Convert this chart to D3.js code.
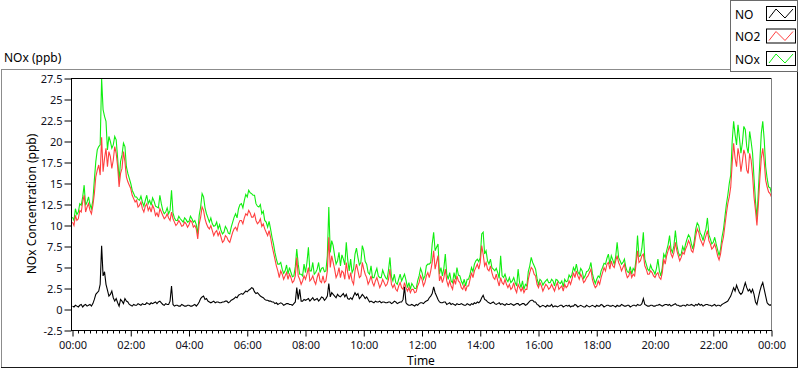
<!DOCTYPE html>
<html><head><meta charset="utf-8">
<script src="https://cdn.jsdelivr.net/npm/d3@7/dist/d3.min.js"></script>
<style>
html,body{margin:0;padding:0;background:#fff;}
svg{display:block;}
text{font-family:"Noto Sans","Liberation Sans",sans-serif;}
</style></head><body>
<svg id="chart" width="800" height="369"></svg>
<script>
// sample interval in minutes (samples start at 00:00)
const sampleMinutes = 3;
const seriesNames = ["NO", "NO2", "NOx"];
const seriesColors = ["#000000", "#ff4040", "#10ee10"];

const NO = [
0.4,0.3,0.5,0.4,0.3,0.5,0.6,0.3,0.5,0.6,0.4,0.5,0.6,0.4,0.7,1.2,1.8,2.0,2.2,3.0,
7.6,4.0,4.5,3.0,2.3,1.6,1.8,2.2,1.4,1.0,1.3,0.8,0.4,1.2,1.0,0.7,1.3,1.0,0.9,0.6,
0.5,0.4,0.6,0.5,0.5,0.7,0.6,0.5,0.7,0.6,0.6,0.8,0.7,0.6,0.8,0.7,0.8,0.9,0.7,0.9,
1.0,0.8,0.6,0.5,0.7,0.6,0.6,1.0,2.8,0.6,0.4,0.5,0.5,0.4,0.4,0.6,0.5,0.4,0.4,0.5,
0.5,0.4,0.4,0.5,0.6,0.4,0.6,0.9,1.3,1.5,1.6,1.2,1.3,1.0,0.9,0.8,0.9,1.0,0.8,0.9,
0.9,0.8,0.8,0.9,0.9,1.0,1.0,0.8,0.9,1.1,1.2,1.3,1.5,1.4,1.7,1.8,1.9,1.8,2.0,2.2,
2.1,2.3,2.4,2.6,2.5,2.1,1.9,2.0,1.8,1.6,1.5,1.4,1.2,1.1,1.1,1.0,1.0,0.9,0.9,0.7,
0.8,0.6,0.7,0.8,0.7,0.5,0.6,0.7,0.7,0.6,0.6,0.5,0.7,0.9,2.6,1.2,2.4,1.0,1.0,1.2,
1.1,1.2,1.3,1.0,1.2,1.4,1.1,1.2,1.3,1.0,1.2,1.5,1.4,1.1,1.3,1.6,3.1,1.5,2.0,1.8,
1.6,1.4,1.8,1.6,1.5,1.7,1.9,1.5,1.8,1.3,1.2,1.4,1.2,1.6,2.0,1.7,1.9,1.3,1.5,1.8,
1.6,1.3,1.5,1.2,0.9,1.0,0.9,0.8,1.0,0.9,0.9,1.0,0.8,0.9,0.9,0.8,0.8,0.9,0.9,0.7,
0.8,1.0,0.9,0.7,0.8,0.9,0.9,1.2,2.7,0.8,0.6,0.5,0.5,0.6,0.5,0.4,0.6,0.5,0.7,0.8,
0.8,0.7,0.9,1.0,1.1,1.4,1.6,1.9,2.7,2.0,1.6,1.2,0.9,0.8,0.8,0.9,0.9,0.6,0.7,0.8,
0.6,0.7,0.6,0.5,0.7,0.6,0.6,0.7,0.6,0.5,0.5,0.7,0.6,0.5,0.7,0.6,0.8,0.7,0.9,0.8,
1.0,1.4,1.7,1.2,1.1,0.9,0.8,0.7,0.8,0.9,0.7,0.6,0.7,0.8,0.6,0.7,0.6,0.5,0.7,0.6,
0.6,0.7,0.6,0.5,0.6,0.7,0.7,0.5,0.6,0.7,0.7,0.5,0.6,0.8,1.0,1.1,1.1,0.9,0.9,0.6,
0.5,0.3,0.4,0.5,0.4,0.3,0.5,0.4,0.4,0.6,0.3,0.4,0.4,0.3,0.4,0.5,0.5,0.3,0.4,0.5,
0.4,0.5,0.3,0.4,0.4,0.6,0.5,0.3,0.4,0.5,0.4,0.3,0.3,0.5,0.4,0.3,0.4,0.5,0.4,0.3,
0.5,0.4,0.4,0.6,0.5,0.3,0.4,0.5,0.5,0.4,0.4,0.5,0.4,0.3,0.5,0.4,0.4,0.6,0.5,0.4,
0.4,0.5,0.5,0.3,0.4,0.5,0.5,0.4,0.6,0.5,0.5,0.7,1.3,0.6,0.5,0.4,0.4,0.5,0.5,0.4,
0.4,0.5,0.5,0.6,0.5,0.4,0.5,0.6,0.6,0.5,0.6,0.4,0.5,0.6,0.7,0.5,0.5,0.4,0.4,0.5,
0.5,0.4,0.6,0.5,0.5,0.6,0.5,0.4,0.6,0.5,0.7,0.5,0.6,0.4,0.5,0.6,0.6,0.5,0.5,0.4,
0.5,0.6,0.4,0.5,0.5,0.4,0.6,0.7,0.8,0.9,1.0,1.3,1.6,2.1,2.6,2.2,2.9,2.4,2.0,1.8,
2.0,2.6,3.2,2.6,2.2,2.4,2.0,2.4,1.8,0.9,0.6,1.4,2.2,2.8,3.2,2.4,1.6,0.8,0.6,0.5,
0.6];

const NO2 = [
10.4,10.0,11.2,10.6,10.8,11.8,11.6,12.8,13.6,11.6,12.2,12.6,11.8,11.4,12.4,13.8,15.8,16.6,17.2,16.0,
20.5,16.4,18.0,19.2,17.0,18.8,18.2,16.8,17.8,19.4,18.6,17.0,14.6,16.2,16.8,18.8,17.6,15.8,15.2,14.8,
14.4,13.6,13.2,12.8,13.0,12.2,12.4,12.8,12.0,11.6,12.3,12.6,11.8,12.2,11.6,12.4,12.0,11.2,11.5,11.0,
12.0,11.6,11.2,10.8,11.0,11.4,10.9,10.6,11.6,10.8,10.4,10.0,10.2,10.6,10.3,9.9,10.0,10.4,10.2,9.8,
10.1,10.6,10.4,9.8,10.0,9.6,8.4,10.2,11.0,12.2,11.8,10.8,10.2,9.8,9.6,10.0,9.4,8.8,9.2,9.4,
8.8,9.2,8.6,8.0,8.2,8.8,8.6,8.2,8.0,8.6,9.2,9.6,9.8,9.4,10.2,10.6,10.6,10.2,10.9,11.4,
11.2,11.8,11.5,11.0,11.0,11.4,10.6,10.2,10.4,10.8,9.9,10.2,9.6,9.2,8.8,9.4,8.6,7.6,6.8,6.0,
5.2,4.6,3.8,4.6,4.2,3.6,4.0,4.4,3.6,4.2,3.8,3.2,3.4,4.0,6.2,4.0,3.6,3.0,3.4,4.0,
3.6,4.2,5.0,3.4,3.6,4.0,3.4,3.0,3.8,4.4,3.4,3.2,4.0,3.2,3.4,4.6,8.6,5.0,6.4,5.6,
4.8,3.8,4.2,5.0,3.8,4.6,4.4,3.6,5.6,4.4,3.6,4.4,3.4,3.0,4.6,5.4,4.6,3.8,4.0,5.6,
4.8,4.2,3.8,3.0,3.4,4.0,3.2,2.8,3.4,3.8,3.2,2.6,3.0,3.6,3.2,2.8,3.0,3.6,4.8,3.0,
2.6,3.0,2.4,2.2,2.8,3.2,2.6,2.4,3.2,2.6,2.2,2.6,2.0,2.4,2.4,2.0,2.1,2.8,3.2,4.0,
3.6,2.8,3.2,4.0,4.4,3.8,4.6,5.6,7.0,4.8,5.6,6.4,3.4,4.0,3.2,3.8,4.8,3.4,2.8,3.4,
2.8,2.4,3.6,3.0,4.0,3.4,3.2,2.6,2.4,3.0,2.2,2.8,2.8,3.6,4.4,3.8,4.6,5.0,5.4,4.8,
5.6,7.6,6.6,5.2,5.6,4.8,4.6,5.2,4.4,3.8,3.6,4.2,3.4,2.8,3.8,3.2,3.0,3.6,3.0,2.6,
3.0,2.4,2.6,3.2,2.4,2.0,3.0,2.6,2.2,2.6,2.0,2.4,2.4,3.6,4.4,5.0,4.8,4.2,4.0,3.0,
2.6,3.2,2.8,2.2,2.6,3.0,2.8,2.4,2.6,3.0,2.6,2.2,2.8,3.2,2.4,2.6,2.8,2.2,3.0,2.6,
2.8,3.4,3.0,3.6,4.4,3.8,4.6,4.0,3.6,4.2,3.8,3.2,3.4,3.8,4.0,4.4,4.8,3.6,3.0,2.6,
2.8,3.4,3.0,3.8,4.4,5.0,4.6,5.4,5.6,4.8,5.8,5.2,5.0,5.8,6.4,5.6,5.2,4.6,5.0,5.4,
4.4,3.8,4.0,4.6,3.8,4.2,4.0,5.4,7.0,5.6,5.8,6.4,6.6,5.2,4.8,4.2,4.2,4.6,4.4,4.0,
3.8,4.2,4.4,3.8,3.6,4.4,6.0,5.4,6.4,7.0,7.6,6.6,6.2,6.8,8.0,7.0,6.4,5.8,6.2,6.8,
6.6,7.2,7.6,8.2,7.8,7.0,6.8,7.6,8.8,9.6,9.2,8.4,8.0,7.6,8.2,8.8,9.4,8.2,7.8,7.2,
7.4,7.8,7.2,6.4,5.9,6.6,7.8,8.6,10.0,11.4,12.6,13.4,14.6,17.4,19.8,18.0,17.0,19.2,18.2,16.4,
17.6,19.0,18.4,16.6,16.2,18.6,17.8,16.0,13.4,11.8,10.0,12.6,15.6,18.0,19.2,17.6,15.4,14.6,14.0,13.8,
13.4];

const NOx = [
11.0,10.6,12.0,11.3,11.6,12.6,12.4,13.4,14.8,12.4,12.8,13.4,12.5,12.0,13.0,15.4,17.6,19.0,19.4,19.6,
27.5,23.8,23.0,22.4,19.0,20.6,20.0,19.2,19.6,20.6,20.2,18.0,15.4,17.6,18.4,19.8,19.4,17.0,16.2,15.6,
15.0,14.2,13.8,13.4,13.4,13.1,13.0,13.5,12.8,12.3,13.0,13.6,12.6,13.0,12.4,13.3,12.9,12.3,12.2,12.1,
13.6,12.6,11.8,11.4,11.6,12.1,11.4,11.8,14.2,11.5,10.9,10.6,10.6,11.1,10.8,10.6,10.4,10.9,10.7,10.4,
10.5,11.1,10.8,10.4,10.6,10.1,9.0,11.2,12.2,13.8,13.4,12.1,11.4,10.9,10.4,10.9,10.2,9.9,10.0,10.4,
9.6,10.1,9.4,9.0,9.2,9.9,9.6,9.1,9.0,9.8,10.4,11.0,11.4,10.9,12.0,12.5,12.6,12.1,13.0,13.7,
13.4,14.2,13.9,13.8,13.6,13.6,12.6,12.3,12.2,12.5,11.4,11.7,10.6,10.4,9.8,10.5,9.6,8.6,7.8,6.8,
6.0,5.4,5.4,5.6,4.8,4.3,4.6,5.3,4.2,5.0,4.4,3.9,4.0,5.1,7.2,5.4,4.2,4.2,4.0,5.4,
4.4,5.6,7.4,4.6,4.6,5.6,4.2,4.4,4.8,5.6,4.4,4.9,5.0,4.5,4.6,6.4,12.2,6.8,8.2,7.6,
6.4,5.4,5.8,6.8,5.2,6.5,6.0,5.3,8.0,5.9,4.6,6.0,4.4,4.8,6.6,7.3,6.2,5.3,5.6,7.6,
7.0,5.7,5.4,4.4,4.2,5.2,3.8,3.8,4.4,4.9,4.0,3.8,3.8,4.7,4.2,3.8,3.6,4.7,6.2,3.9,
3.4,4.2,3.2,3.0,3.6,4.2,3.4,3.8,4.2,3.5,2.6,3.2,2.4,3.1,2.8,2.5,2.5,3.4,4.0,4.9,
4.4,3.6,4.0,5.2,5.4,5.4,5.6,7.8,9.2,7.0,7.4,7.8,4.2,5.0,4.0,4.9,6.6,4.2,3.6,4.4,
3.4,3.2,4.4,3.6,5.0,4.1,4.0,3.4,3.0,3.6,2.8,3.6,3.6,4.2,5.0,4.5,5.4,5.8,6.0,5.7,
6.2,9.0,9.2,6.6,7.0,5.8,5.4,6.0,5.0,4.8,4.6,4.9,4.4,3.7,6.4,4.0,3.8,4.2,3.6,3.3,
3.8,3.2,3.4,3.8,3.2,2.8,4.8,3.2,2.6,3.4,2.4,3.0,2.8,4.5,5.2,6.2,5.6,5.2,4.8,3.7,
3.0,3.6,3.4,2.9,3.2,3.4,3.6,3.2,3.2,3.6,3.4,2.8,3.6,3.5,3.2,3.1,3.4,2.7,3.6,3.3,
3.4,4.1,3.8,4.2,5.0,4.6,5.4,4.5,4.2,4.9,4.6,3.7,4.0,4.5,4.6,4.9,5.6,4.3,3.6,3.1,
3.6,4.0,3.8,4.6,5.0,5.5,5.4,6.1,6.6,5.4,6.4,5.9,5.4,6.3,8.0,6.2,5.8,5.4,5.6,6.0,
5.0,4.5,4.4,5.1,4.2,4.9,4.6,6.0,8.8,6.3,6.4,7.3,9.2,6.0,5.4,4.8,4.6,5.3,4.8,4.6,
4.2,4.9,6.0,4.6,4.0,5.0,6.6,6.2,7.0,7.7,8.8,7.2,6.8,7.6,9.4,7.7,6.8,6.4,6.6,7.5,
7.0,7.8,8.4,8.9,8.6,7.8,7.2,8.2,9.6,10.3,10.0,9.1,8.8,8.2,9.0,9.6,10.9,8.9,8.4,7.8,
8.0,8.6,7.8,7.1,6.4,7.2,8.6,9.5,11.0,12.5,13.6,15.0,16.0,20.0,22.4,20.8,19.6,22.0,20.4,18.6,
19.8,21.8,21.4,19.4,18.6,21.2,20.0,18.6,15.6,12.9,10.8,14.2,17.6,21.0,22.4,20.2,17.0,15.6,14.6,14.5,
13.8];

const xTickHours = [0,2,4,6,8,10,12,14,16,18,20,22,24];
const xTickLabels = ["00:00","02:00","04:00","06:00","08:00","10:00","12:00","14:00","16:00","18:00","20:00","22:00","00:00"];
const yTickValues = [-2.5,0,2.5,5,7.5,10,12.5,15,17.5,20,22.5,25,27.5];

const svg = d3.select("#chart");

// outer panel
const panel = svg.append("g");
panel.append("line").attr("x1",1.5).attr("x2",1.5).attr("y1",69.5).attr("y2",367).attr("stroke","#8c8c8c");
panel.append("line").attr("x1",1).attr("x2",797).attr("y1",69.5).attr("y2",69.5).attr("stroke","#8c8c8c");
panel.append("line").attr("x1",1).attr("x2",797.5).attr("y1",367.5).attr("y2",367.5).attr("stroke","#1a1a1a");
panel.append("line").attr("x1",797.5).attr("x2",797.5).attr("y1",69).attr("y2",368).attr("stroke","#1a1a1a");

svg.append("text").attr("x",4).attr("y",62).attr("font-size",12).attr("fill","#000").text("NOx (ppb)");

const x = d3.scaleLinear().domain([0,24]).range([72.5,771.5]);
const y = d3.scaleLinear().domain([-2.5,27.5]).range([330.5,78.5]);

const rows = NO.map((v,i)=>({h: i*sampleMinutes/60, NO: v, NO2: NO2[i], NOx: NOx[i]}));

// plot frame
svg.append("line").attr("x1",71.5).attr("x2",772).attr("y1",78.5).attr("y2",78.5).attr("stroke","#000");
svg.append("line").attr("x1",771.5).attr("x2",771.5).attr("y1",78).attr("y2",331).attr("stroke","#808080");

// clip
svg.append("clipPath").attr("id","clip").append("rect").attr("x",72).attr("y",79).attr("width",699).attr("height",252);
const plot = svg.append("g").attr("clip-path","url(#clip)");

const order = ["NOx","NO2","NO"];
order.forEach(name=>{
  const col = seriesColors[seriesNames.indexOf(name)];
  const line = d3.line().x(d=>x(d.h)).y(d=>y(d[name]));
  plot.append("path").datum(rows).attr("d",line).attr("fill","none").attr("stroke",col).attr("stroke-width",1.1);
});

// y axis
const yAxis = d3.axisLeft(y).tickValues(yTickValues).tickSize(7).tickPadding(2)
  .tickFormat(d=>String(d));
const gy = svg.append("g").attr("transform","translate(71.5,0)").call(yAxis);
gy.select(".domain").attr("stroke","#000").attr("d","M0,78V331");
gy.selectAll(".tick line").attr("stroke","#000");
gy.selectAll(".tick text").attr("font-size",11).attr("fill","#101020").attr("font-family","'Noto Sans',sans-serif");

// x axis major
const xAxis = d3.axisBottom(x).tickValues(xTickHours).tickSize(6).tickPadding(5)
  .tickFormat((d,i)=>xTickLabels[i]);
const gx = svg.append("g").attr("transform","translate(0,330.5)").call(xAxis);
gx.select(".domain").attr("stroke","#000").attr("d","M71,0H772");
gx.selectAll(".tick line").attr("stroke","#000");
gx.selectAll(".tick text").attr("font-size",11).attr("fill","#101020").attr("font-family","'Noto Sans',sans-serif");
// minor ticks
const minor = d3.range(0,24*60+1,12).map(m=>m/60).filter(h=>xTickHours.indexOf(h)<0);
gx.selectAll(".minor").data(minor).enter().append("line").attr("class","minor")
  .attr("x1",d=>Math.round(x(d))+0.5).attr("x2",d=>Math.round(x(d))+0.5).attr("y1",0).attr("y2",3).attr("stroke","#000");

svg.append("text").attr("x",421).attr("y",365).attr("text-anchor","middle").attr("font-size",12).attr("fill","#000").text("Time");
svg.append("text").attr("transform","translate(36,204) rotate(-90)").attr("text-anchor","middle").attr("font-size",12).attr("fill","#000").text("NOx Concentration (ppb)");

// legend
const lg = svg.append("g");
lg.append("rect").attr("x",730.5).attr("y",0.5).attr("width",67).attr("height",71).attr("fill","#fff").attr("stroke","#6a6a6a");
seriesNames.forEach((name,i)=>{
  const cy = 14 + i*22.5;
  lg.append("text").attr("x",735).attr("y",cy+4.5).attr("font-size",12).attr("fill","#000").text(name);
  lg.append("rect").attr("x",766.5).attr("y",cy-7.5).attr("width",29).attr("height",14).attr("fill","#fff").attr("stroke","#000");
  const pts = [[769,cy+4],[776,cy-5],[785,cy+4],[793,cy-5]];
  lg.append("path").attr("d",d3.line()(pts)).attr("fill","none").attr("stroke",seriesColors[i]).attr("stroke-width",1);
});
</script>
</body></html>
